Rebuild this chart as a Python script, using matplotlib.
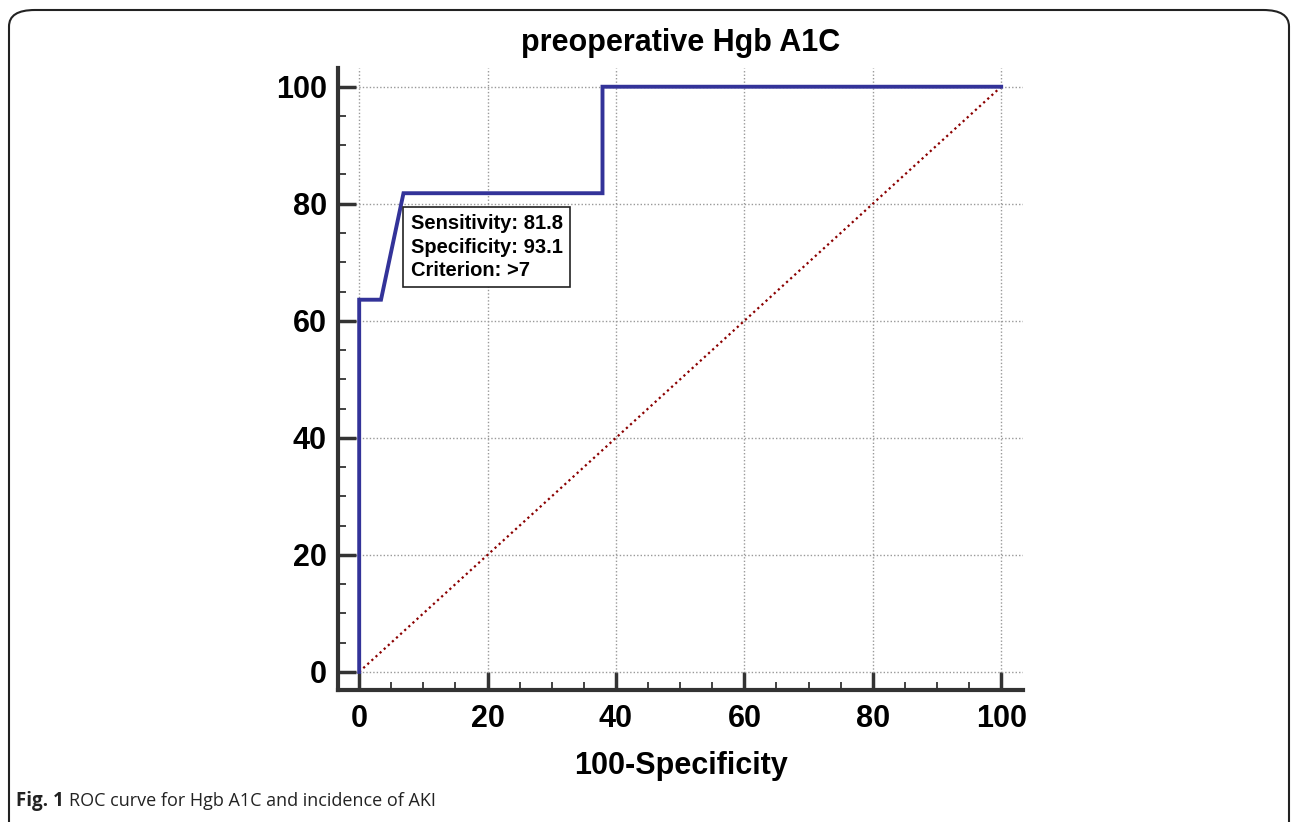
import matplotlib.pyplot as plt
from matplotlib.patches import FancyBboxPatch
from matplotlib.ticker import MultipleLocator

# ROC curve for preoperative Hgb A1C
fpr = [0, 0, 3.4, 6.9, 37.9, 37.9, 100]
tpr = [0, 63.6, 63.6, 81.8, 81.8, 100, 100]
ref_line = [0, 100]

ticks = [0, 20, 40, 60, 80, 100]
box_lines = ["Sensitivity: 81.8", "Specificity: 93.1", "Criterion: >7"]

plt.rcParams['font.family'] = ['Liberation Sans', 'DejaVu Sans']

fig = plt.figure(figsize=(12.92, 8.22), dpi=100)

# rounded frame around the figure
frame = FancyBboxPatch((9 / 1292, -0.05), 1280 / 1292, 1.05 - 10 / 822,
                       boxstyle="round,pad=0,rounding_size=0.02",
                       transform=fig.transFigure, fill=False,
                       edgecolor="#222222", linewidth=1.5, clip_on=False)
fig.patches.append(frame)

ax = fig.add_axes([338 / 1292, 1 - 690 / 822, (1023 - 338) / 1292, (690 - 68) / 822])

ax.plot(ref_line, ref_line, color="#8b0000", linestyle=(0, (1, 1.5)), linewidth=1.6)
ax.plot(fpr, tpr, color="#333399", linewidth=2.8, solid_joinstyle="miter")

ax.set_xlim(-3.3, 103.4)
ax.set_ylim(-3.1, 103.2)
ax.set_xticks(ticks)
ax.set_yticks(ticks)
ax.xaxis.set_minor_locator(MultipleLocator(5))
ax.yaxis.set_minor_locator(MultipleLocator(5))
ax.tick_params(which="major", direction="in", length=13, width=2.5, color="#333333",
               labelsize=22, pad=8)
ax.tick_params(axis="x", which="major", pad=10)
ax.tick_params(which="minor", direction="in", length=6, width=1.3, color="#333333")
for lab in ax.get_xticklabels() + ax.get_yticklabels():
    lab.set_fontweight("bold")

for s in ["top", "right"]:
    ax.spines[s].set_visible(False)
for s in ["left", "bottom"]:
    ax.spines[s].set_linewidth(3)
    ax.spines[s].set_color("#333333")

ax.grid(True, which="major", color="#999999", linestyle=(0, (1, 1.5)), linewidth=1)
ax.set_axisbelow(True)

ax.set_title("preoperative Hgb A1C", fontsize=22, fontweight="bold", pad=12)
ax.set_xlabel("100-Specificity", fontsize=22, fontweight="bold", labelpad=12)

ax.text(8.0, 78.2, "\n".join(box_lines), fontsize=14.5, fontweight="bold",
        va="top", ha="left", linespacing=1.3,
        bbox=dict(boxstyle="square,pad=0.35", facecolor="white", edgecolor="#222222",
                  linewidth=1.2), zorder=5)

cap_y = 1 - 801 / 822
t1 = fig.text(16 / 1292, cap_y, "Fig. 1", fontsize=13.5, fontweight="bold",
              family=["Open Sans", "DejaVu Sans"], va="center", color="#222222")
fig.canvas.draw()
bb = t1.get_window_extent()
fig.text((bb.x1 + 5) / 1292, cap_y, "ROC curve for Hgb A1C and incidence of AKI",
         fontsize=13, family=["Open Sans", "DejaVu Sans"], va="center", color="#222222")

fig.savefig("out.png", dpi=100)
